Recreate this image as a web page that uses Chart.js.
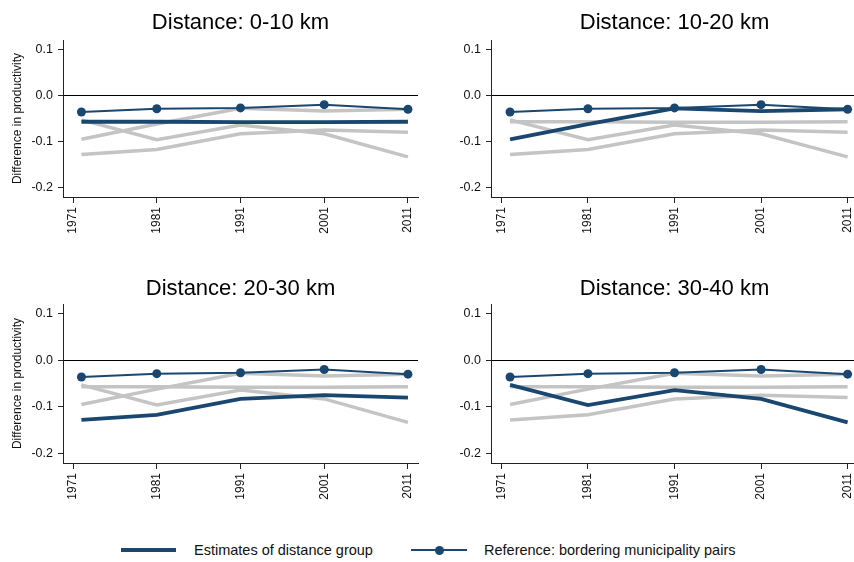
<!DOCTYPE html>
<html>
<head>
<meta charset="utf-8">
<script src="https://cdn.jsdelivr.net/npm/chart.js@4.4.1/dist/chart.umd.min.js"></script>
<style>
  html, body { margin: 0; padding: 0; background: #fff; width: 854px; height: 562px; overflow: hidden; }
  body { position: relative; font-family: "Liberation Sans", Arial, sans-serif; }
  canvas { position: absolute; }
  .key-line { position: absolute; background: #1a476f; }
  .key-dot { position: absolute; width: 9px; height: 9px; border-radius: 50%; background: #1a476f; }
  .key-text { position: absolute; font-size: 14.5px; color: #111; line-height: 20px; white-space: nowrap; }
</style>
</head>
<body>
<canvas id="panel0"></canvas>
<canvas id="panel1"></canvas>
<canvas id="panel2"></canvas>
<canvas id="panel3"></canvas>

<div class="key-line" style="left:121px; top:548px; width:55px; height:4px;"></div>
<div class="key-text" id="key0" style="left:194px; top:540px;"></div>
<div class="key-line" style="left:411px; top:549px; width:56px; height:2px;"></div>
<div class="key-dot" style="left:435px; top:545.5px;"></div>
<div class="key-text" id="key1" style="left:484px; top:540px;"></div>

<script>
// values
const years = [1972, 1981, 1991, 2001, 2011];
const tickYears = [1971, 1981, 1991, 2001, 2011];
const yTicks = [-0.2, -0.1, 0, 0.1];

const groupTitles = ['Distance: 0-10 km', 'Distance: 10-20 km', 'Distance: 20-30 km', 'Distance: 30-40 km'];
const legendLabels = ['Estimates of distance group', 'Reference: bordering municipality pairs'];
const yAxisTitle = 'Difference in productivity';

const reference = [-0.036, -0.029, -0.027, -0.020, -0.030];
const dist0to10 = [-0.057, -0.057, -0.058, -0.058, -0.057];
const dist10to20 = [-0.095, -0.062, -0.028, -0.034, -0.030];
const dist20to30 = [-0.128, -0.117, -0.083, -0.075, -0.080];
const dist30to40 = [-0.053, -0.096, -0.064, -0.083, -0.133];
const groupEstimates = [dist0to10, dist10to20, dist20to30, dist30to40];

const navy = '#1a476f';
const grey = '#c4c4c4';
const axisColor = '#222';

// where each panel sits on the page (right column runs a bit past the edge, like the original)
const panels = [
    {left: 0,   top: 0,   width: 430, height: 270, area: {l: 63,  r: 418, t: 40,  b: 197}, titleY: 23.3, yTitle: true},
    {left: 430, top: 0,   width: 460, height: 270, area: {l: 491, r: 858, t: 40,  b: 197}, titleY: 23.3, yTitle: false},
    {left: 0,   top: 264, width: 430, height: 270, area: {l: 63,  r: 418, t: 304, b: 463}, titleY: 289,  yTitle: true},
    {left: 430, top: 264, width: 460, height: 270, area: {l: 491, r: 858, t: 304, b: 463}, titleY: 289,  yTitle: false}
];

document.getElementById('key0').textContent = legendLabels[0];
document.getElementById('key1').textContent = legendLabels[1];

const toPoints = vals => vals.map((v, i) => ({x: years[i], y: v}));

panels.forEach((p, idx) => {
    const canvas = document.getElementById('panel' + idx);
    canvas.width = p.width;
    canvas.height = p.height;
    canvas.style.left = p.left + 'px';
    canvas.style.top = p.top + 'px';

    const titleSize = 22;
    const titleH = titleSize * 1.2;
    const padTop = p.titleY - p.top - titleH / 2;
    const padBottom = p.area.t - p.top - padTop - titleH;
    const yAxisWidth = p.area.l - p.left;
    const xAxisHeight = p.top + p.height - p.area.b;
    const padRight = p.left + p.width - p.area.r;

    // other groups in grey behind the highlighted one
    const greyLines = groupEstimates
        .map((vals, g) => ({vals, g}))
        .filter(o => o.g !== idx)
        .map(o => ({
            label: groupTitles[o.g],
            data: toPoints(o.vals),
            borderColor: grey,
            borderWidth: 3.5,
            pointRadius: 0
        }));

    new Chart(canvas.getContext('2d'), {
        type: 'line',
        data: {
            datasets: [
                {
                    label: legendLabels[1],
                    data: toPoints(reference),
                    borderColor: navy,
                    backgroundColor: navy,
                    borderWidth: 2,
                    pointRadius: 4.5,
                    pointBorderWidth: 0,
                    pointBackgroundColor: navy
                },
                {
                    label: legendLabels[0],
                    data: toPoints(groupEstimates[idx]),
                    borderColor: navy,
                    borderWidth: 3.8,
                    pointRadius: 0
                },
                ...greyLines
            ]
        },
        options: {
            responsive: false,
            animation: false,
            layout: {padding: {left: 0, right: padRight, top: 0, bottom: 0}},
            plugins: {
                legend: {display: false},
                tooltip: {enabled: false},
                title: {
                    display: true,
                    text: groupTitles[idx],
                    fullSize: false,
                    color: '#000',
                    font: {family: '"Liberation Sans", Arial, sans-serif', size: titleSize, weight: 'normal'},
                    padding: {top: padTop, bottom: padBottom}
                }
            },
            scales: {
                x: {
                    type: 'linear',
                    min: 1969.8,
                    max: 2012.2,
                    afterBuildTicks: scale => { scale.ticks = tickYears.map(v => ({value: v})); },
                    afterFit: scale => { scale.height = xAxisHeight; },
                    border: {display: true, color: axisColor, width: 1},
                    grid: {drawOnChartArea: false, drawTicks: true, tickLength: 6, tickColor: axisColor},
                    ticks: {
                        autoSkip: false,
                        minRotation: 90,
                        maxRotation: 90,
                        padding: 4,
                        color: '#111',
                        font: {family: '"Liberation Sans", Arial, sans-serif', size: 12},
                        callback: v => String(v)
                    }
                },
                y: {
                    min: -0.22,
                    max: 0.12,
                    afterBuildTicks: scale => { scale.ticks = yTicks.map(v => ({value: v})); },
                    afterFit: scale => { scale.width = yAxisWidth; },
                    border: {display: true, color: axisColor, width: 1},
                    grid: {
                        drawTicks: true,
                        tickLength: 5,
                        tickColor: axisColor,
                        lineWidth: 1,
                        color: ctx => (ctx.tick && ctx.tick.value === 0) ? '#000' : 'rgba(0,0,0,0)'
                    },
                    ticks: {
                        padding: 5,
                        color: '#111',
                        font: {family: '"Liberation Sans", Arial, sans-serif', size: 12.5},
                        callback: v => v.toFixed(1)
                    },
                    title: {
                        display: p.yTitle,
                        text: yAxisTitle,
                        color: '#111',
                        padding: {top: 10, bottom: 0},
                        font: {family: '"Liberation Sans", Arial, sans-serif', size: 12}
                    }
                }
            }
        }
    });
});
</script>
</body>
</html>
